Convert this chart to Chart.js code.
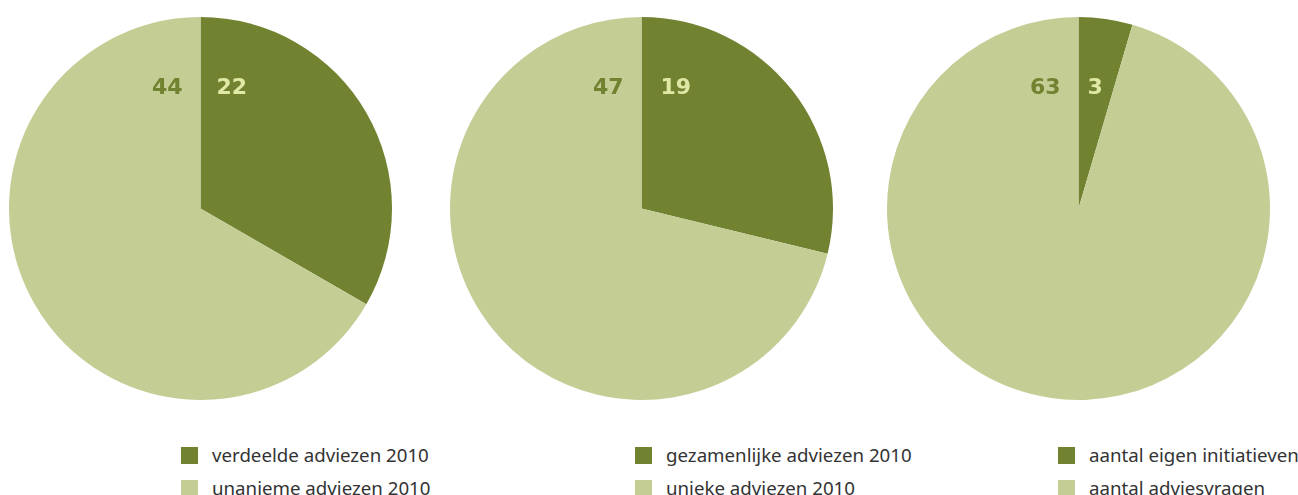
<!DOCTYPE html>
<html>
<head>
<meta charset="utf-8">
<script src="https://cdn.jsdelivr.net/npm/chart.js@4/dist/chart.umd.min.js"></script>
<style>
  body { margin:0; width:1298px; height:495px; background:#fff; position:relative; overflow:hidden; font-family:"Noto Sans", sans-serif; }
  .pie { position:absolute; top:17px; }
  .legend { position:absolute; top:447px; }
  .legend .item { position:relative; height:17px; margin-bottom:16px; white-space:nowrap; }
  .legend .box { position:absolute; left:0; top:0; width:17px; height:17px; }
  .legend .txt { position:absolute; top:-4px; font-size:18.7px; line-height:24px; color:#333; }
</style>
</head>
<body>
<canvas id="pie1" class="pie" width="383" height="383" style="left:9px"></canvas>
<canvas id="pie2" class="pie" width="383" height="383" style="left:450px"></canvas>
<canvas id="pie3" class="pie" width="383" height="383" style="left:887px"></canvas>
<div id="legend1" class="legend" style="left:181px"></div>
<div id="legend2" class="legend" style="left:635px"></div>
<div id="legend3" class="legend" style="left:1058px"></div>
<script>
// data
const labels1 = ['verdeelde adviezen 2010', 'unanieme adviezen 2010'];
const values1 = [22, 44];
const labels2 = ['gezamenlijke adviezen 2010', 'unieke adviezen 2010'];
const values2 = [19, 47];
const labels3 = ['aantal eigen initiatieven', 'aantal adviesvragen'];
const values3 = [3, 63];

const dark = '#718230';
const light = '#c3cd94';
const lightText = '#e0e8a6';

// value labels near the top, either side of the start line
const valueLabels = {
    id: 'valueLabels',
    afterDatasetsDraw(chart, args, opts) {
        const ctx = chart.ctx;
        const arc = chart.getDatasetMeta(0).data[0];
        const cx = arc.x, cy = arc.y, r = arc.outerRadius;
        const vals = chart.data.datasets[0].data;
        const y = cy - r * 0.6;
        ctx.save();
        ctx.font = 'bold 22px "DejaVu Sans"';
        ctx.textBaseline = 'alphabetic';
        ctx.fillStyle = dark;
        ctx.textAlign = 'right';
        ctx.fillText(vals[1], cx - 18, y);
        ctx.fillStyle = lightText;
        ctx.textAlign = 'left';
        ctx.fillText(vals[0], cx + opts.rightGap, y);
        ctx.restore();
    }
};

function makePie(id, legendId, labels, values, rightGap){
    const chart = new Chart(document.getElementById(id), {
        type: 'pie',
        data: {
            labels: labels,
            datasets: [{
                data: values,
                backgroundColor: [dark, light],
                borderWidth: 0
            }]
        },
        options: {
            responsive: false,
            animation: false,
            events: [],
            layout: { padding: 0 },
            plugins: {
                legend: { display: false },
                tooltip: { enabled: false },
                valueLabels: { rightGap: rightGap }
            }
        },
        plugins: [valueLabels]
    });

    const leg = document.getElementById(legendId);
    chart.data.labels.forEach((lbl, i) => {
        const item = document.createElement('div');
        item.className = 'item';
        item.innerHTML = '<span class="box" style="background:' + chart.data.datasets[0].backgroundColor[i] + '"></span>' +
            '<span class="txt" style="left:31px">' + lbl + '</span>';
        leg.appendChild(item);
    });
    return chart;
}

makePie('pie1', 'legend1', labels1, values1, 16);
makePie('pie2', 'legend2', labels2, values2, 19);
makePie('pie3', 'legend3', labels3, values3, 9);
</script>
</body>
</html>
